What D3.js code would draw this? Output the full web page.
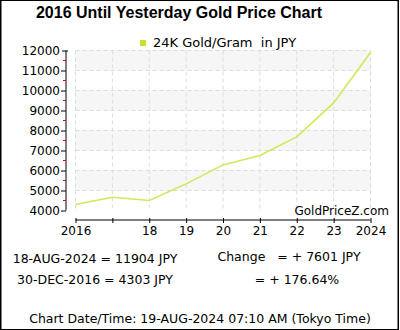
<!DOCTYPE html>
<html><head><meta charset="utf-8">
<script src="https://cdn.jsdelivr.net/npm/d3@7"></script>
<style>html,body{margin:0;padding:0;background:#fff;}svg{display:block;}</style>
</head><body>
<svg id="c" width="400" height="330"></svg>
<script>
const years = [2016, 2017, 2018, 2019, 2020, 2021, 2022, 2023, 2024];
const tickLabels = ["2016", "", "18", "19", "20", "21", "22", "23", "2024"];
const prices = [4303, 4660, 4500, 5330, 6280, 6750, 7680, 9380, 11904];
const yTicks = [4000, 5000, 6000, 7000, 8000, 9000, 10000, 11000, 12000];
const yMinor = [4500, 5500, 6500, 7500, 8500, 9500, 10500, 11500];

const F = "'DejaVu Sans', Verdana, sans-serif";
const svg = d3.select("#c");
const x = d3.scaleLinear().domain([2016, 2024]).range([75.5, 370.5]);
const y = d3.scaleLinear().domain([4000, 12000]).range([210.5, 50.5]);

// outer frame
svg.append("rect").attr("x", 1).attr("y", 0.5).attr("width", 397).attr("height", 329)
  .attr("fill", "none").attr("stroke", "#000").attr("stroke-width", 1);
svg.append("line").attr("x1", 0.5).attr("x2", 0.5).attr("y1", 0).attr("y2", 330).attr("stroke", "#000");
svg.append("line").attr("x1", 398.5).attr("x2", 398.5).attr("y1", 0).attr("y2", 330).attr("stroke", "#000");

// title
svg.append("text").attr("x", 179).attr("y", 18).attr("text-anchor", "middle")
  .attr("font-family", "'Liberation Sans', Arial, sans-serif").attr("font-weight", "bold")
  .attr("font-size", 16).text("2016 Until Yesterday Gold Price Chart");

// bands
const bands = [[11000, 12000], [9000, 10000], [7000, 8000], [5000, 6000]];
svg.selectAll(".band").data(bands).enter().append("rect")
  .attr("x", x(2016)).attr("width", x(2024) - x(2016))
  .attr("y", d => y(d[1])).attr("height", d => y(d[0]) - y(d[1]))
  .attr("fill", "#f6f6f6");

// grid
svg.selectAll(".hg").data(yTicks.slice(1)).enter().append("line")
  .attr("x1", x(2016)).attr("x2", x(2024)).attr("y1", d => y(d)).attr("y2", d => y(d))
  .attr("stroke", "#dcdcdc").attr("stroke-dasharray", "4,3");
svg.selectAll(".vg").data(years).enter().append("line")
  .attr("x1", d => x(d)).attr("x2", d => x(d)).attr("y1", y(12000)).attr("y2", y(4000))
  .attr("stroke", "#dcdcdc").attr("stroke-dasharray", "4,3");

// y axis
const yAxis = d3.axisLeft(y).tickValues(yTicks).tickSize(5).tickPadding(1).tickFormat(d3.format("d"));
const ya = svg.append("g").attr("transform", "translate(66,0)").call(yAxis);
ya.select(".domain").attr("d", `M0,${y(12000)}V${y(4000)}`).attr("stroke", "#000");
ya.selectAll("text").attr("font-family", F).attr("font-size", 12).attr("fill", "#000");
ya.selectAll(".tick").filter(d => d === 12000).select("line").attr("x2", 2).attr("x1", -4);
svg.selectAll(".ym").data(yMinor).enter().append("line")
  .attr("x1", 63).attr("x2", 66).attr("y1", d => y(d)).attr("y2", d => y(d))
  .attr("stroke", "#e00000");

// x axis
const xAxis = d3.axisBottom(x).tickValues(years).tickSize(3).tickPadding(3)
  .tickFormat((d, i) => tickLabels[i]);
const xa = svg.append("g").attr("transform", "translate(0,220)").call(xAxis);
xa.select(".domain").attr("d", `M${x(2016)},0H${x(2024)}`).attr("stroke", "#000");
xa.selectAll(".tick line").attr("y1", -2).attr("y2", 3);
xa.selectAll("text").attr("font-family", F).attr("font-size", 12).attr("fill", "#000");

// line
svg.append("path").datum(years.map((d, i) => [d, prices[i]]))
  .attr("d", d3.line().x(d => x(d[0])).y(d => y(d[1])))
  .attr("fill", "none").attr("stroke", "#d4e65a").attr("stroke-width", 1.6);

// legend
svg.append("rect").attr("x", 140).attr("y", 40).attr("width", 6).attr("height", 6).attr("fill", "#c6e030");
svg.append("text").attr("x", 153).attr("y", 47).attr("font-family", F).attr("font-size", 13)
  .attr("xml:space", "preserve").style("white-space", "pre").text("24K Gold/Gram  in JPY");

// watermark
svg.append("text").attr("x", 389).attr("y", 215).attr("text-anchor", "end")
  .attr("font-family", F).attr("font-size", 12).text("GoldPriceZ.com");

// footer texts
const T = (tx, ty, s, anchor) => svg.append("text").attr("x", tx).attr("y", ty)
  .attr("text-anchor", anchor || "middle").attr("font-family", F).attr("font-size", 12.5)
  .style("white-space", "pre").text(s);
T(95, 263, "18-AUG-2024 = 11904 JPY");
T(95, 284, "30-DEC-2016 = 4303 JPY");
T(289, 261, "Change   = + 7601 JPY");
T(297, 284, "= + 176.64%");
T(200, 323, "Chart Date/Time: 19-AUG-2024 07:10 AM (Tokyo Time)");
</script>
</body></html>
